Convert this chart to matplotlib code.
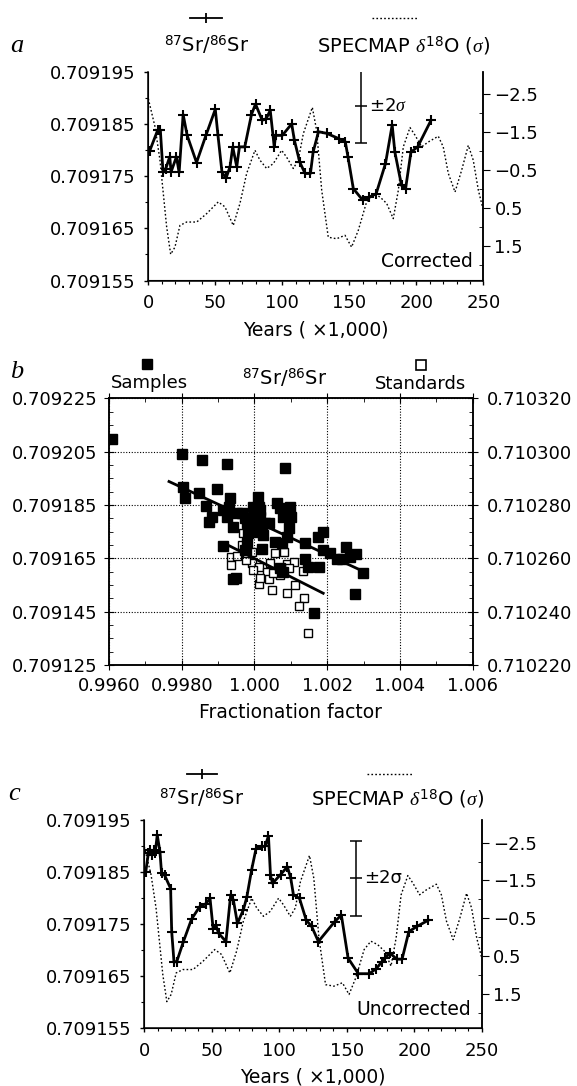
import matplotlib
matplotlib.use("Agg")
import matplotlib.pyplot as plt
from matplotlib.lines import Line2D
from matplotlib.ticker import MultipleLocator, FormatStrFormatter

plt.rcParams['font.family'] = ['DejaVu Sans']
plt.rcParams['mathtext.fontset'] = 'custom'
plt.rcParams['mathtext.rm'] = 'DejaVu Sans'
plt.rcParams['mathtext.it'] = 'Liberation Serif:italic'
plt.rcParams['mathtext.bf'] = 'DejaVu Sans:bold'

# SPECMAP delta18O stack (sigma units), same curve in a and c
specmap_kyr = [0, 5, 8.7, 11.2, 13.7, 16.7, 19.9, 23.6, 28.6, 36.1, 43.5, 52.2, 57.2, 63.4,
               68.4, 73.4, 79.6, 83.3, 88.3, 93.3, 99.5, 103.2, 108.2, 111.9, 115.7, 122.4,
               125.6, 129.4, 134.3, 140.5, 146.8, 151.7, 156.7, 162.9, 167.9, 172.9, 177.9,
               182.8, 186.6, 190.3, 195.3, 199, 204, 209, 216.4, 220.1, 223.9, 228.9, 233.8,
               238.8, 242.5, 246.3, 250]
specmap_sigma = [-2.39, -1.65, -0.77, 0.11, 0.99, 1.71, 1.52, 0.95, 0.86, 0.86, 0.64, 0.33,
                 0.46, 0.95, 0.37, -0.42, -1.03, -0.77, -0.55, -0.68, -1.03, -0.85, -0.55,
                 -0.77, -1.47, -2.16, -1.56, 0.02, 1.26, 1.30, 1.21, 1.52, 1.08, 0.33, 0.11,
                 0.20, 0.37, 0.77, 0.02, -1.12, -1.63, -1.43, -1.12, -1.25, -1.40, -1.12,
                 -0.42, 0.07, -0.50, -1.16, -0.77, 0.02, 0.55]

# panel a: corrected 87Sr/86Sr
corr_kyr = [1, 7, 9, 11, 13, 16, 17, 21, 23, 26, 29, 36, 43, 50, 52, 55, 58, 61, 63, 66,
            68, 72, 77, 80, 85, 88, 91, 94, 95, 100, 107, 109, 113, 117, 121, 123, 127, 133,
            142, 147, 149, 153, 160, 165, 170, 177, 182, 184, 189, 192, 196, 201, 211]
corr_sr = [0.7091798, 0.7091838, 0.7091838, 0.7091757, 0.7091764, 0.7091787, 0.7091758,
           0.7091787, 0.7091757, 0.7091868, 0.7091828, 0.7091776, 0.7091828, 0.7091878,
           0.7091828, 0.7091757, 0.7091746, 0.7091768, 0.7091806, 0.7091768, 0.7091806,
           0.7091806, 0.7091868, 0.7091888, 0.7091857, 0.7091860, 0.7091876, 0.7091806,
           0.7091828, 0.7091828, 0.7091850, 0.7091819, 0.7091777, 0.7091755, 0.7091755,
           0.7091796, 0.7091835, 0.7091832, 0.7091822, 0.7091816, 0.7091787, 0.7091726,
           0.7091704, 0.7091710, 0.7091716, 0.7091774, 0.7091848, 0.7091796, 0.7091732,
           0.7091726, 0.7091796, 0.7091806, 0.7091857]

# panel c: uncorrected 87Sr/86Sr
unc_kyr = [1, 3, 4, 5.5, 7, 8, 9.6, 11.6, 12.8, 15, 19.5, 20.3, 22, 24, 29, 35, 41, 45.7,
           48.7, 51, 53, 55, 60.5, 64, 66, 69, 73.4, 76, 79.5, 82.8, 87, 89.4, 92, 93.5, 95,
           101, 106, 108.5, 110.5, 115, 120, 124, 129, 141, 146, 151, 158.6, 166.7, 172, 176,
           178.5, 182, 187, 191, 196, 202, 210.5]
unc_sr = [0.7091849, 0.7091886, 0.7091892, 0.7091883, 0.7091892, 0.7091886, 0.7091921,
          0.7091889, 0.7091847, 0.7091844, 0.7091818, 0.7091735, 0.7091677, 0.7091677,
          0.7091716, 0.7091759, 0.7091783, 0.7091789, 0.7091799, 0.7091741, 0.7091748,
          0.7091732, 0.7091716, 0.7091806, 0.7091796, 0.7091751, 0.7091777, 0.7091802,
          0.7091854, 0.7091895, 0.7091899, 0.7091899, 0.7091919, 0.7091844, 0.7091828,
          0.7091845, 0.7091860, 0.7091838, 0.7091806, 0.7091799, 0.7091757, 0.7091745,
          0.7091716, 0.7091754, 0.7091767, 0.7091684, 0.7091654, 0.7091654, 0.7091664,
          0.7091677, 0.7091684, 0.7091694, 0.7091682, 0.7091682, 0.7091735, 0.7091745,
          0.7091757]

# +-2 sigma bars
err_a = (158.5, 0.7091885, 7.1e-6)
err_c = (156.9, 0.7091838, 7.2e-6)

# panel b: fractionation factor vs 87Sr/86Sr
samp_f = [0.99609, 0.99800, 0.99857, 0.99925, 1.00084, 0.99804, 0.99809, 0.99848, 0.99896,
          0.99867, 0.99884, 0.99876, 0.99914, 0.99933, 0.99930, 0.99924, 0.99942, 0.99951,
          0.99965, 0.99974, 0.99979, 0.99983, 0.99992, 0.99997, 1.00000, 1.00006, 1.00011,
          1.00013, 1.00015, 1.00020, 1.00024, 1.00029, 1.00041, 1.00061, 1.00070, 1.00079,
          1.00098, 1.00100, 1.00095, 1.00089, 1.00056, 1.00075, 1.00022, 0.99979, 0.99974,
          0.99914, 1.00139, 1.00176, 1.00189, 1.00189, 1.00208, 1.00226, 1.00251, 1.00240,
          1.00263, 1.00279, 1.00139, 1.00148, 1.00178, 1.00070, 1.00079, 0.99949, 0.99942,
          1.00276, 1.00165, 1.00298, 0.99990, 1.00005, 1.00016, 0.99995]
samp_sr = [0.7092098, 0.7092040, 0.7092019, 0.7092004, 0.7091988, 0.7091919, 0.7091878,
           0.7091894, 0.7091910, 0.7091846, 0.7091806, 0.7091785, 0.7091831, 0.7091875,
           0.7091844, 0.7091806, 0.7091769, 0.7091819, 0.7091819, 0.7091800, 0.7091781,
           0.7091744, 0.7091763, 0.7091844, 0.7091806, 0.7091800, 0.7091881, 0.7091844,
           0.7091806, 0.7091769, 0.7091738, 0.7091781, 0.7091781, 0.7091856, 0.7091838,
           0.7091806, 0.7091844, 0.7091806, 0.7091763, 0.7091731, 0.7091713, 0.7091706,
           0.7091684, 0.7091706, 0.7091681, 0.7091698, 0.7091706, 0.7091731, 0.7091750,
           0.7091681, 0.7091669, 0.7091648, 0.7091694, 0.7091648, 0.7091656, 0.7091666,
           0.7091648, 0.7091619, 0.7091619, 0.7091613, 0.7091600, 0.7091575, 0.7091573,
           0.7091515, 0.7091446, 0.7091596, 0.7091790, 0.7091760, 0.7091830, 0.7091750]
std_f = [0.99935, 0.99935, 0.99968, 0.99967, 0.99992, 0.99992, 1.00013, 1.00034, 1.00041,
         1.00049, 1.00012, 1.00056, 1.00081, 1.00089, 1.00110, 1.00095, 1.00111, 1.00089,
         1.00134, 1.00137, 1.00122, 1.00148, 0.99951, 0.99976, 0.99997, 1.00043, 1.00070,
         0.99979, 1.00015, 1.00052]
std_sr = [0.7102604, 0.7102575, 0.7102696, 0.7102650, 0.7102625, 0.7102581, 0.7102569,
          0.7102550, 0.7102521, 0.7102481, 0.7102503, 0.7102621, 0.7102625, 0.7102579,
          0.7102588, 0.7102563, 0.7102500, 0.7102471, 0.7102554, 0.7102450, 0.7102421,
          0.7102319, 0.7102609, 0.7102594, 0.7102556, 0.7102581, 0.7102538, 0.7102619,
          0.7102525, 0.7102544]
samp_fit_f = [0.99765, 1.00304]
samp_fit_sr = [0.7091938, 0.7091598]
std_fit_f = [0.99922, 1.00189]
std_fit_sr = [0.7102653, 0.7102469]

frac_ticks = [0.996, 0.998, 1.000, 1.002, 1.004, 1.006]
frac_labels = ['0.9960', '0.9980', '1.000', '1.002', '1.004', '1.006']

W, H = 577, 1086
fig = plt.figure(figsize=(W / 100, H / 100), dpi=100)
FS = 13


def rect(l, r, t, b):
    return [l / W, 1 - b / H, (r - l) / W, (b - t) / H]


def ftext(x, y, s, **kw):
    fig.text(x / W, 1 - y / H, s, **kw)


def key(x, y, **kw):
    fig.add_artist(Line2D([v / W for v in x], [1 - v / H for v in y],
                          transform=fig.transFigure, color='black', **kw))


def time_panel(r, kyr, sr, err, err_text, note):
    ax = fig.add_axes(r)
    ax.plot(kyr, sr, color='black', lw=2.0, marker='+', ms=7, mew=1.5, zorder=3)
    ex, ey, eh = err
    ax.errorbar([ex], [ey], yerr=[eh], color='black', lw=1.1, capsize=4, capthick=1.1)
    ax.plot([ex], [ey], marker='_', ms=8, mew=1.1, color='black')
    ax.text(ex + 6, ey, err_text, fontsize=FS, va='center', ha='left')
    ax.text(0.97, 0.09, note, transform=ax.transAxes, fontsize=FS + 0.5,
            ha='right', va='center')
    ax.set_xlim(0, 250)
    ax.set_ylim(0.709155, 0.709195)
    ax.set_xticks([0, 50, 100, 150, 200, 250])
    ax.xaxis.set_minor_locator(MultipleLocator(10))
    ax.set_yticks([0.709155, 0.709165, 0.709175, 0.709185, 0.709195])
    ax.yaxis.set_minor_locator(MultipleLocator(0.000005))
    ax.yaxis.set_major_formatter(FormatStrFormatter('%.6f'))
    ax.spines['top'].set_visible(False)
    ax.tick_params(which='major', direction='out', length=3, width=1, labelsize=FS, pad=6)
    ax.tick_params(which='minor', direction='out', length=2, width=0.8)
    ax.tick_params(axis='x', pad=7)
    ax.set_xlabel('Years ( \u00d71,000)', fontsize=FS + 0.5, labelpad=6)
    for s in ax.spines.values():
        s.set_linewidth(1.1)
    ax2 = ax.twinx()
    ax2.plot(specmap_kyr, specmap_sigma, color='black', lw=1.0, ls=(0, (1.2, 1.6)))
    ax2.set_ylim(2.4, -3.1)
    ax2.set_yticks([-2.5, -1.5, -0.5, 0.5, 1.5])
    ax2.set_yticks([-2, -1, 0, 1, 2], minor=True)
    ax2.spines['top'].set_visible(False)
    ax2.spines['right'].set_linewidth(1.1)
    ax2.tick_params(which='major', direction='out', length=5, labelsize=FS, pad=3)
    ax2.tick_params(which='minor', direction='in', length=3)
    return ax


# ---- panel a
time_panel(rect(148.3, 483.3, 71.7, 280.5), corr_kyr, corr_sr, err_a,
           '\u00b12$\\sigma$', 'Corrected')
ftext(17, 52, 'a', fontsize=19, family='Liberation Serif', style='italic', va='baseline', ha='center')
key([190, 222], [17.5, 17.5], lw=1.3)
key([206], [17.5], marker='|', ms=7, mew=1.3, ls='none')
ftext(207, 52, '$^{87}$Sr/$^{86}$Sr', fontsize=FS + 1, ha='center', va='baseline')
key([372, 417], [17.5, 17.5], lw=1.0, ls=(0, (1.2, 1.6)))
ftext(404, 52, 'SPECMAP $\\delta^{18}$O ($\\sigma$)', fontsize=FS + 1, ha='center', va='baseline')

# ---- panel b
axb = fig.add_axes(rect(109, 472.7, 398.3, 665))
axb2 = axb.twinx()
axb.set_zorder(axb2.get_zorder() + 1)
axb.patch.set_visible(False)
axb.plot(samp_f, samp_sr, ls='none', marker='s', ms=6.5, color='black')
axb.plot(samp_fit_f, samp_fit_sr, color='black', lw=2.0)
axb2.plot(std_f, std_sr, ls='none', marker='s', ms=5.5, mfc='white', mec='black', mew=1.0)
axb2.plot(std_fit_f, std_fit_sr, color='black', lw=2.0)
axb.set_xlim(0.996, 1.006)
axb.set_ylim(0.709125, 0.709225)
axb2.set_ylim(0.710220, 0.710320)
axb.set_xticks(frac_ticks)
axb.set_xticklabels(frac_labels)
axb.xaxis.set_minor_locator(MultipleLocator(0.001))
axb.set_yticks([0.709125, 0.709145, 0.709165, 0.709185, 0.709205, 0.709225])
axb.yaxis.set_minor_locator(MultipleLocator(0.000005))
axb.yaxis.set_major_formatter(FormatStrFormatter('%.6f'))
axb2.set_yticks([0.710220, 0.710240, 0.710260, 0.710280, 0.710300, 0.710320])
axb2.yaxis.set_minor_locator(MultipleLocator(0.000005))
axb2.yaxis.set_major_formatter(FormatStrFormatter('%.6f'))
axb.grid(True, which='major', color='black', ls=(0, (1, 1.5)), lw=0.8)
axb.tick_params(which='major', direction='inout', length=7, labelsize=FS, top=True, pad=5)
axb.tick_params(which='minor', direction='in', length=3, top=True)
axb2.tick_params(which='major', direction='inout', length=7, labelsize=FS, pad=7)
axb2.tick_params(which='minor', direction='in', length=3)
axb.set_xlabel('Fractionation factor', fontsize=FS + 0.5, labelpad=6)
for s in list(axb.spines.values()) + list(axb2.spines.values()):
    s.set_linewidth(1.1)
ftext(17, 378, 'b', fontsize=19, family='Liberation Serif', style='italic', va='baseline', ha='center')
key([147], [364], marker='s', ms=7, ls='none')
ftext(149, 388, 'Samples', fontsize=FS, ha='center', va='baseline')
ftext(285, 385, '$^{87}$Sr/$^{86}$Sr', fontsize=FS + 1, ha='center', va='baseline')
key([421], [365], marker='s', ms=7, ls='none', mfc='white', mew=1.2)
ftext(421, 389, 'Standards', fontsize=FS, ha='center', va='baseline')

# ---- panel c
time_panel(rect(144.3, 481.7, 820, 1027.7), unc_kyr, unc_sr, err_c,
           '\u00b12\u03c3', 'Uncorrected')
ftext(14, 800, 'c', fontsize=19, family='Liberation Serif', style='italic', va='baseline', ha='center')
key([187, 217], [774, 774], lw=1.3)
key([202], [774], marker='|', ms=7, mew=1.3, ls='none')
ftext(202, 805, '$^{87}$Sr/$^{86}$Sr', fontsize=FS + 1, ha='center', va='baseline')
key([367, 413], [774, 774], lw=1.0, ls=(0, (1.2, 1.6)))
ftext(398, 805, 'SPECMAP $\\delta^{18}$O ($\\sigma$)', fontsize=FS + 1, ha='center', va='baseline')

fig.savefig('out.png', dpi=100)
